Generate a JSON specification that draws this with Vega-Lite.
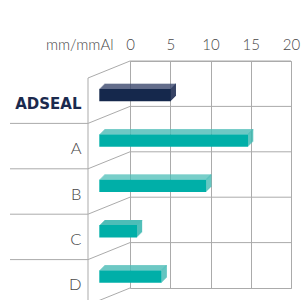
{
  "$schema": "https://vega.github.io/schema/vega-lite/v6.json",
  "width": 161,
  "height": 227,
  "autosize": {"type": "none"},
  "padding": {"left": 130, "top": 61, "right": 10, "bottom": 12},
  "background": "white",
  "config": {
    "view": {"stroke": "#ababab", "strokeWidth": 1},
    "axis": {"domain": false, "ticks": false, "tickSize": 0}
  },
  "data": {
    "values": [
      {"cat": "ADSEAL", "value": 8.9},
      {"cat": "A", "value": 18.5},
      {"cat": "B", "value": 13.3},
      {"cat": "C", "value": 4.7},
      {"cat": "D", "value": 7.75}
    ]
  },
  "layer": [
    {
      "mark": {"type": "rule", "color": "#ababab", "strokeWidth": 1, "yOffset": -22.7},
      "encoding": {"y": {"field": "cat", "type": "nominal", "scale": {"domain": ["ADSEAL", "A", "B", "C", "D"], "paddingInner": 0, "paddingOuter": 0}}}
    },
    {
      "mark": {"type": "rule", "color": "#ababab", "strokeWidth": 1, "xOffset": -42, "yOffset": -5.7, "y2Offset": 39.7},
      "encoding": {
        "x": {"datum": 0},
        "y": {"field": "cat", "type": "nominal"},
        "y2": {"field": "cat"}
      }
    },
    {
      "mark": {"type": "rule", "color": "#ababab", "strokeWidth": 1, "xOffset": 0, "x2Offset": -42, "yOffset": -22.7, "y2Offset": -5.7},
      "encoding": {
        "x": {"datum": 0},
        "x2": {"datum": 0},
        "y": {"field": "cat", "type": "nominal"},
        "y2": {"field": "cat"}
      }
    },
    {
      "transform": [{"filter": "datum.cat === 'D'"}],
      "mark": {"type": "rule", "color": "#ababab", "strokeWidth": 1, "xOffset": 0, "x2Offset": -42, "yOffset": 22.7, "y2Offset": 39.7},
      "encoding": {
        "x": {"datum": 0},
        "x2": {"datum": 0},
        "y": {"field": "cat", "type": "nominal"},
        "y2": {"field": "cat"}
      }
    },
    {
      "transform": [{"filter": "datum.cat !== 'ADSEAL'"}],
      "mark": {"type": "rule", "color": "#ababab", "strokeWidth": 1, "xOffset": -120, "x2Offset": -42, "yOffset": -5.7},
      "encoding": {
        "x": {"datum": 0},
        "x2": {"datum": 0},
        "y": {"field": "cat", "type": "nominal"}
      }
    },
    {
      "mark": {"type": "bar", "height": 12.5, "yOffset": 11.3, "xOffset": -30.7, "x2Offset": -30.7},
      "encoding": {
        "x": {
          "field": "value", "type": "quantitative",
          "scale": {"domain": [0, 20], "nice": false, "zero": true},
          "axis": {
            "orient": "top", "values": [0, 5, 10, 15, 20], "grid": true, "gridColor": "#ababab", "gridWidth": 1,
            "labelFont": "Lato", "labelFontSize": 15, "labelFontWeight": 300, "labelColor": "#484848",
            "labelPadding": 12, "labelBaseline": "alphabetic", "labelFlush": false, "labelAlign": "center",
            "title": "mm/mmAl", "titleFont": "Lato", "titleFontSize": 15, "titleFontWeight": 300, "titleColor": "#484848",
            "titleAngle": 0, "titleAlign": "right", "titleBaseline": "alphabetic", "titleX": -17, "titleY": -12, "titlePadding": 0
          }
        },
        "y": {
          "field": "cat", "type": "nominal", "title": null,
          "axis": {
            "grid": false, "labelPadding": 49, "labelOffset": 20, "labelBaseline": "middle",
            "labelFont": {"condition": {"test": "datum.value === 'ADSEAL'", "value": "DejaVu Sans"}, "value": "Lato"},
            "labelFontSize": {"condition": {"test": "datum.value === 'ADSEAL'", "value": 15}, "value": 16.5},
            "labelFontWeight": {"condition": {"test": "datum.value === 'ADSEAL'", "value": "bold"}, "value": 300},
            "labelColor": {"condition": {"test": "datum.value === 'ADSEAL'", "value": "#1b2a4e"}, "value": "#484848"}
          }
        },
        "color": {"condition": {"test": "datum.cat === 'ADSEAL'", "value": "#15284c"}, "value": "#00afa8"}
      }
    },
    {"mark": {"type": "bar", "height": 12.5, "yOffset": 10.3, "xOffset": -30.7, "x2Offset": -29.7}, "encoding": {"x": {"field": "value", "type": "quantitative"}, "x2": {"field": "value"}, "y": {"field": "cat", "type": "nominal"}, "color": {"condition": {"test": "datum.cat === 'ADSEAL'", "value": "#2d3a5e"}, "value": "#3ab7b0"}}},
    {"mark": {"type": "bar", "height": 12.5, "yOffset": 9.3, "xOffset": -29.7, "x2Offset": -28.7}, "encoding": {"x": {"field": "value", "type": "quantitative"}, "x2": {"field": "value"}, "y": {"field": "cat", "type": "nominal"}, "color": {"condition": {"test": "datum.cat === 'ADSEAL'", "value": "#2d3a5e"}, "value": "#3ab7b0"}}},
    {"mark": {"type": "bar", "height": 12.5, "yOffset": 8.3, "xOffset": -28.7, "x2Offset": -27.7}, "encoding": {"x": {"field": "value", "type": "quantitative"}, "x2": {"field": "value"}, "y": {"field": "cat", "type": "nominal"}, "color": {"condition": {"test": "datum.cat === 'ADSEAL'", "value": "#2d3a5e"}, "value": "#3ab7b0"}}},
    {"mark": {"type": "bar", "height": 12.5, "yOffset": 7.3, "xOffset": -27.7, "x2Offset": -26.7}, "encoding": {"x": {"field": "value", "type": "quantitative"}, "x2": {"field": "value"}, "y": {"field": "cat", "type": "nominal"}, "color": {"condition": {"test": "datum.cat === 'ADSEAL'", "value": "#2d3a5e"}, "value": "#3ab7b0"}}},
    {"mark": {"type": "bar", "height": 12.5, "yOffset": 6.3, "xOffset": -26.7, "x2Offset": -25.7}, "encoding": {"x": {"field": "value", "type": "quantitative"}, "x2": {"field": "value"}, "y": {"field": "cat", "type": "nominal"}, "color": {"condition": {"test": "datum.cat === 'ADSEAL'", "value": "#2d3a5e"}, "value": "#3ab7b0"}}},
    {"mark": {"type": "bar", "height": 1, "yOffset": 4.55, "xOffset": -29.7, "x2Offset": -29.7}, "encoding": {"x": {"field": "value", "type": "quantitative"}, "x2": {"datum": 0}, "y": {"field": "cat", "type": "nominal"}, "color": {"condition": {"test": "datum.cat === 'ADSEAL'", "value": "#3f4b70"}, "value": "#4dbdb7"}}},
    {"mark": {"type": "bar", "height": 1, "yOffset": 3.55, "xOffset": -28.7, "x2Offset": -28.7}, "encoding": {"x": {"field": "value", "type": "quantitative"}, "x2": {"datum": 0}, "y": {"field": "cat", "type": "nominal"}, "color": {"condition": {"test": "datum.cat === 'ADSEAL'", "value": "#3f4b70"}, "value": "#4dbdb7"}}},
    {"mark": {"type": "bar", "height": 1, "yOffset": 2.55, "xOffset": -27.7, "x2Offset": -27.7}, "encoding": {"x": {"field": "value", "type": "quantitative"}, "x2": {"datum": 0}, "y": {"field": "cat", "type": "nominal"}, "color": {"condition": {"test": "datum.cat === 'ADSEAL'", "value": "#3f4b70"}, "value": "#4dbdb7"}}},
    {"mark": {"type": "bar", "height": 1, "yOffset": 1.55, "xOffset": -26.7, "x2Offset": -26.7}, "encoding": {"x": {"field": "value", "type": "quantitative"}, "x2": {"datum": 0}, "y": {"field": "cat", "type": "nominal"}, "color": {"condition": {"test": "datum.cat === 'ADSEAL'", "value": "#3f4b70"}, "value": "#4dbdb7"}}},
    {"mark": {"type": "bar", "height": 1, "yOffset": 0.55, "xOffset": -25.7, "x2Offset": -25.7}, "encoding": {"x": {"field": "value", "type": "quantitative"}, "x2": {"datum": 0}, "y": {"field": "cat", "type": "nominal"}, "color": {"condition": {"test": "datum.cat === 'ADSEAL'", "value": "#3f4b70"}, "value": "#4dbdb7"}}}
  ]
}
